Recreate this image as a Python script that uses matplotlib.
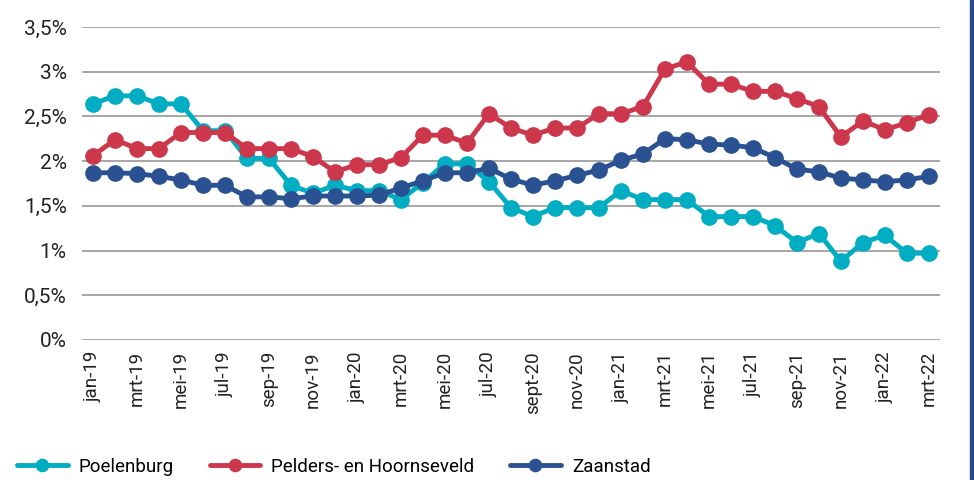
import numpy as np
import matplotlib
matplotlib.use('Agg')
import matplotlib.pyplot as plt
from matplotlib.patches import Rectangle
from matplotlib.ticker import FuncFormatter

plt.rcParams['font.family'] = ['Roboto', 'DejaVu Sans']

maanden = ['jan-19', 'feb-19', 'mrt-19', 'apr-19', 'mei-19', 'jun-19', 'jul-19', 'aug-19',
           'sep-19', 'okt-19', 'nov-19', 'dec-19', 'jan-20', 'feb-20', 'mrt-20', 'apr-20',
           'mei-20', 'jun-20', 'jul-20', 'aug-20', 'sept-20', 'okt-20', 'nov-20', 'dec-20',
           'jan-21', 'feb-21', 'mrt-21', 'apr-21', 'mei-21', 'jun-21', 'jul-21', 'aug-21',
           'sep-21', 'okt-21', 'nov-21', 'dec-21', 'jan-22', 'feb-22', 'mrt-22']

poelenburg = [2.64, 2.73, 2.73, 2.64, 2.64, 2.34, 2.34, 2.03, 2.03, 1.73, 1.64, 1.73, 1.67,
              1.67, 1.57, 1.76, 1.97, 1.97, 1.77, 1.48, 1.38, 1.48, 1.48, 1.48, 1.67, 1.57,
              1.57, 1.57, 1.38, 1.38, 1.38, 1.28, 1.09, 1.19, 0.88, 1.09, 1.17, 0.97, 0.97]

pelders = [2.06, 2.24, 2.14, 2.14, 2.32, 2.32, 2.32, 2.14, 2.14, 2.14, 2.05, 1.88, 1.96,
           1.96, 2.04, 2.29, 2.29, 2.20, 2.53, 2.37, 2.29, 2.37, 2.37, 2.53, 2.53, 2.61,
           3.03, 3.11, 2.86, 2.86, 2.78, 2.78, 2.70, 2.61, 2.27, 2.45, 2.35, 2.43, 2.52]

zaanstad = [1.87, 1.87, 1.86, 1.83, 1.79, 1.73, 1.73, 1.60, 1.60, 1.58, 1.61, 1.61, 1.61,
            1.62, 1.70, 1.78, 1.87, 1.87, 1.92, 1.80, 1.73, 1.78, 1.84, 1.90, 2.01, 2.08,
            2.25, 2.24, 2.19, 2.18, 2.15, 2.04, 1.91, 1.88, 1.81, 1.79, 1.77, 1.79, 1.83]

reeksen = [('Poelenburg', poelenburg, '#00adc2'),
           ('Pelders- en Hoornseveld', pelders, '#cc374c'),
           ('Zaanstad', zaanstad, '#2a5192')]

fig = plt.figure(figsize=(9.74, 4.8), dpi=100)
ax = fig.add_axes([0.0842, 0.2917, 0.8808, 0.6521])

x = np.arange(len(maanden))
for naam, waarden, kleur in reeksen:
    ax.plot(x, waarden, color=kleur, lw=3.5, marker='o', ms=11, label=naam,
            solid_capstyle='round', zorder=3)

ax.set_xlim(-0.5, len(maanden) - 0.5)
ax.set_ylim(0, 3.5)
ax.set_yticks(np.arange(0, 3.51, 0.5))
ax.yaxis.set_major_formatter(FuncFormatter(lambda v, p: ('%g' % v).replace('.', ',') + '%'))
ax.grid(axis='y', color='#a6a6a6', lw=1.4)
ax.set_axisbelow(True)
for s in ax.spines.values():
    s.set_visible(False)
ax.tick_params(length=0, colors='#222222')
ax.tick_params(axis='y', pad=11, labelsize=15)
ax.tick_params(axis='x', pad=8)
ax.set_xticks(x[::2])
ax.set_xticklabels(maanden[::2], rotation=90, fontsize=13.5)

fig.legend(loc='center left', bbox_to_anchor=(0.0, 0.027), ncol=3, frameon=False,
           fontsize=13.5, handlelength=2.7, handletextpad=0.6, columnspacing=1.9,
           markerscale=0.8)

fig.patches.append(Rectangle((0.996, 0), 0.004, 1, transform=fig.transFigure,
                             color='#2a4a8c', zorder=5))

fig.savefig('out.png', dpi=100)
